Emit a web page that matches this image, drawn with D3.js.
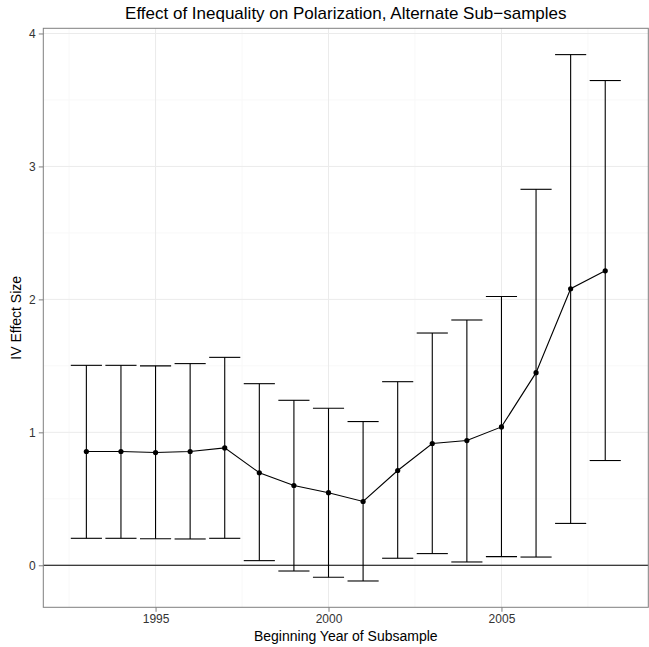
<!DOCTYPE html>
<html>
<head>
<meta charset="utf-8">
<script src="https://cdn.jsdelivr.net/npm/d3@7"></script>
<style>
  body { margin: 0; background: white; }
  text { font-family: "Liberation Sans", Arial, Helvetica, sans-serif; }
</style>
</head>
<body>
<div id="chart"></div>
<script>
// values
var years = [1993, 1994, 1995, 1996, 1997, 1998, 1999, 2000, 2001, 2002, 2003, 2004, 2005, 2006, 2007, 2008];
var estimate = [0.856, 0.856, 0.848, 0.856, 0.883, 0.696, 0.600, 0.546, 0.480, 0.713, 0.916, 0.938, 1.041, 1.449, 2.080, 2.215];
var lower = [0.203, 0.203, 0.200, 0.198, 0.203, 0.035, -0.043, -0.090, -0.118, 0.053, 0.088, 0.025, 0.065, 0.062, 0.315, 0.788];
var upper = [1.504, 1.504, 1.500, 1.517, 1.564, 1.366, 1.241, 1.181, 1.081, 1.381, 1.747, 1.845, 2.022, 2.828, 3.841, 3.646];
var xTicks = [1995, 2000, 2005];
var yTicks = [0, 1, 2, 3, 4];
var xMinor = [1992.5, 1997.5, 2002.5, 2007.5];
var yMinor = [0.5, 1.5, 2.5, 3.5];

var rows = years.map(function(y, i) {
  return {year: y, est: estimate[i], lo: lower[i], hi: upper[i]};
});

var w = 649, h = 647;
var margin = {top: 28.3, right: 0.7, bottom: 39.7, left: 43.3};
var innerWidth = w - margin.left - margin.right;
var innerHeight = h - margin.top - margin.bottom;
var capHalf = 0.45;

var svg = d3.select("#chart").append("svg")
    .attr("width", w)
    .attr("height", h);
svg.append("rect")
    .attr("width", w).attr("height", h)
    .attr("fill", "white");

// ggplot style 5% expansion
var xmin = d3.min(years) - capHalf, xmax = d3.max(years) + capHalf;
var xpad = (xmax - xmin) * 0.05;
var xScale = d3.scaleLinear()
    .domain([xmin - xpad, xmax + xpad])
    .range([0, innerWidth]);
var ymin = d3.min(lower), ymax = d3.max(upper);
var ypad = (ymax - ymin) * 0.05;
var yScale = d3.scaleLinear()
    .domain([ymin - ypad, ymax + ypad])
    .range([innerHeight, 0]);

var g = svg.append("g")
    .attr("transform", `translate(${margin.left}, ${margin.top})`);

// grid
g.selectAll(".xminor").data(xMinor).enter().append("line")
    .attr("x1", d => xScale(d)).attr("x2", d => xScale(d))
    .attr("y1", 0).attr("y2", innerHeight)
    .attr("stroke", "#f8f8f8").attr("stroke-width", 1);
g.selectAll(".yminor").data(yMinor).enter().append("line")
    .attr("y1", d => yScale(d)).attr("y2", d => yScale(d))
    .attr("x1", 0).attr("x2", innerWidth)
    .attr("stroke", "#f8f8f8").attr("stroke-width", 1);
g.selectAll(".xmajor").data(xTicks).enter().append("line")
    .attr("x1", d => xScale(d)).attr("x2", d => xScale(d))
    .attr("y1", 0).attr("y2", innerHeight)
    .attr("stroke", "#ebebeb").attr("stroke-width", 1);
g.selectAll(".ymajor").data(yTicks).enter().append("line")
    .attr("y1", d => yScale(d)).attr("y2", d => yScale(d))
    .attr("x1", 0).attr("x2", innerWidth)
    .attr("stroke", "#ebebeb").attr("stroke-width", 1);

// zero line
g.append("line")
    .attr("x1", 0).attr("x2", innerWidth)
    .attr("y1", yScale(0)).attr("y2", yScale(0))
    .attr("stroke", "black").attr("stroke-width", 1.1);

// error bars
var bars = g.selectAll(".bar").data(rows).enter().append("g");
bars.append("line")
    .attr("x1", d => xScale(d.year)).attr("x2", d => xScale(d.year))
    .attr("y1", d => yScale(d.lo)).attr("y2", d => yScale(d.hi))
    .attr("stroke", "black").attr("stroke-width", 1.1);
bars.append("line")
    .attr("x1", d => xScale(d.year - capHalf)).attr("x2", d => xScale(d.year + capHalf))
    .attr("y1", d => yScale(d.lo)).attr("y2", d => yScale(d.lo))
    .attr("stroke", "black").attr("stroke-width", 1.1);
bars.append("line")
    .attr("x1", d => xScale(d.year - capHalf)).attr("x2", d => xScale(d.year + capHalf))
    .attr("y1", d => yScale(d.hi)).attr("y2", d => yScale(d.hi))
    .attr("stroke", "black").attr("stroke-width", 1.1);

// line + points
var line = d3.line()
    .x(d => xScale(d.year))
    .y(d => yScale(d.est));
g.append("path")
    .datum(rows)
    .attr("d", line)
    .attr("fill", "none")
    .attr("stroke", "black")
    .attr("stroke-width", 1.1);
g.selectAll(".pt").data(rows).enter().append("circle")
    .attr("cx", d => xScale(d.year))
    .attr("cy", d => yScale(d.est))
    .attr("r", 2.6)
    .attr("fill", "black");

// panel border
g.append("rect")
    .attr("width", innerWidth).attr("height", innerHeight)
    .attr("fill", "none")
    .attr("stroke", "#7f7f7f").attr("stroke-width", 1);

// axes
var xAxis = d3.axisBottom(xScale).tickValues(xTicks).tickFormat(d3.format("d")).tickSize(4.5).tickPadding(3);
var yAxis = d3.axisLeft(yScale).tickValues(yTicks).tickFormat(d3.format("d")).tickSize(4.5).tickPadding(3);
var xg = svg.append("g")
    .attr("transform", `translate(${margin.left}, ${margin.top + innerHeight})`)
    .call(xAxis);
var yg = svg.append("g")
    .attr("transform", `translate(${margin.left}, ${margin.top})`)
    .call(yAxis);
[xg, yg].forEach(function(a) {
  a.select(".domain").remove();
  a.selectAll(".tick line").attr("stroke", "#7f7f7f");
  a.selectAll(".tick text")
      .attr("fill", "#333333")
      .style("font-size", "12px")
      .style("font-family", "Liberation Sans, Arial, sans-serif");
});

// titles
svg.append("text")
    .attr("x", margin.left + innerWidth / 2)
    .attr("y", 19)
    .attr("text-anchor", "middle")
    .style("font-size", "17px")
    .text("Effect of Inequality on Polarization, Alternate Sub\u2212samples");
svg.append("text")
    .attr("x", margin.left + innerWidth / 2)
    .attr("y", 641)
    .attr("text-anchor", "middle")
    .style("font-size", "14px")
    .text("Beginning Year of Subsample");
svg.append("text")
    .attr("transform", "rotate(-90)")
    .attr("x", -(margin.top + innerHeight / 2))
    .attr("y", 21)
    .attr("text-anchor", "middle")
    .style("font-size", "14px")
    .text("IV Effect Size");
</script>
</body>
</html>
